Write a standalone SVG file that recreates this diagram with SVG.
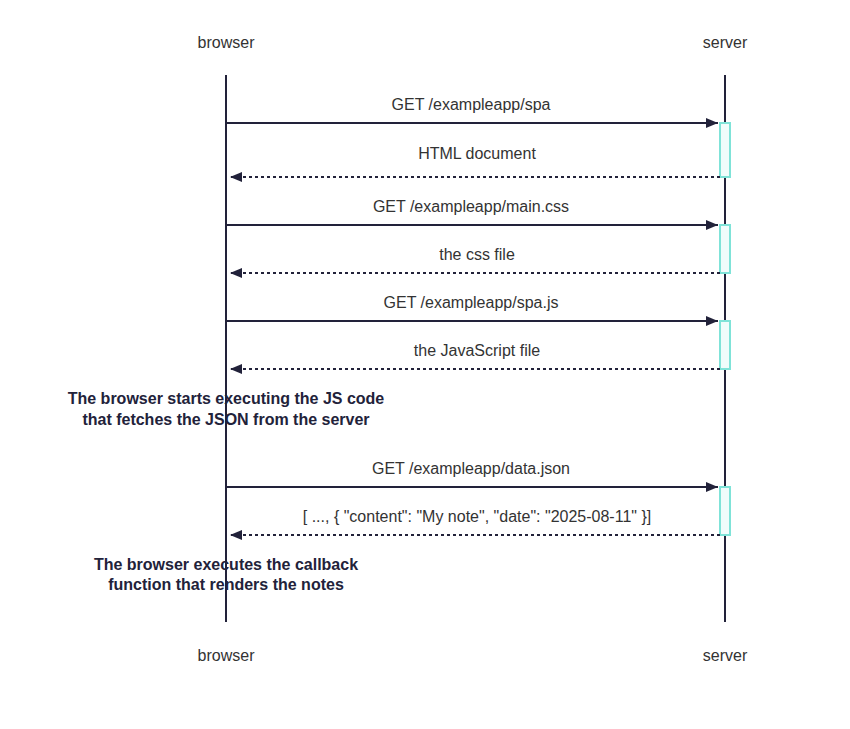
<svg xmlns="http://www.w3.org/2000/svg" width="850" height="729" viewBox="0 0 850 729">
<style>
.actor{font-family:"Liberation Sans",Arial,sans-serif;font-size:16px;fill:#333333;text-anchor:middle}
.life{stroke:#22223a;stroke-width:2}
.act{fill:#f0fcfb;stroke:#7fe3d8;stroke-width:2}
.msg{font-family:"Liberation Sans",Arial,sans-serif;font-size:16px;fill:#333333;text-anchor:middle}
.line{stroke:#22223a;stroke-width:2;fill:none}
.dash{stroke-dasharray:3 3}
.note{font-family:"Liberation Sans",Arial,sans-serif;font-size:16px;font-weight:bold;fill:#22223a;text-anchor:middle}
</style>
<defs>
<marker id="ah" viewBox="0 0 12 10" refX="12" refY="5" markerWidth="12" markerHeight="10" markerUnits="userSpaceOnUse" orient="auto">
<path d="M0,0 L12,5 L0,10 z" fill="#22223a"/>
</marker>
</defs>
<rect width="850" height="729" fill="#ffffff"/>
<g id="browser">
<text class="actor" x="226" y="48">browser</text>
<line class="life" x1="226" y1="75" x2="226" y2="622"/>
<text class="actor" x="226" y="661">browser</text>
</g>
<g id="server">
<text class="actor" x="725" y="48">server</text>
<line class="life" x1="725" y1="75" x2="725" y2="622"/>
<text class="actor" x="725" y="661">server</text>
<rect class="act" x="720" y="123" width="10" height="54"/>
<rect class="act" x="720" y="225" width="10" height="48"/>
<rect class="act" x="720" y="321" width="10" height="48"/>
<rect class="act" x="720" y="487" width="10" height="48"/>
</g>
<g id="connectors">
<line class="line" x1="226" y1="123" x2="718" y2="123" marker-end="url(#ah)"/>
<text class="msg" x="471" y="110">GET /exampleapp/spa</text>
<line class="line dash" x1="720" y1="177" x2="230" y2="177" marker-end="url(#ah)"/>
<text class="msg" x="477" y="159">HTML document</text>
<line class="line" x1="226" y1="225" x2="718" y2="225" marker-end="url(#ah)"/>
<text class="msg" x="471" y="212">GET /exampleapp/main.css</text>
<line class="line dash" x1="720" y1="273" x2="230" y2="273" marker-end="url(#ah)"/>
<text class="msg" x="477" y="260">the css file</text>
<line class="line" x1="226" y1="321" x2="718" y2="321" marker-end="url(#ah)"/>
<text class="msg" x="471" y="308">GET /exampleapp/spa.js</text>
<line class="line dash" x1="720" y1="369" x2="230" y2="369" marker-end="url(#ah)"/>
<text class="msg" x="477" y="356">the JavaScript file</text>
<line class="line" x1="226" y1="487" x2="718" y2="487" marker-end="url(#ah)"/>
<text class="msg" x="471" y="474">GET /exampleapp/data.json</text>
<line class="line dash" x1="720" y1="535" x2="230" y2="535" marker-end="url(#ah)"/>
<text class="msg" x="477" y="522">[ ..., { "content": "My note", "date": "2025-08-11" }]</text>
</g>
<g id="note1">
<text class="note" x="226" y="404">The browser starts executing the JS code</text>
<text class="note" x="226" y="425">that fetches the JSON from the server</text>
</g>
<g id="note2">
<text class="note" x="226" y="570">The browser executes the callback</text>
<text class="note" x="226" y="590">function that renders the notes</text>
</g>
</svg>
